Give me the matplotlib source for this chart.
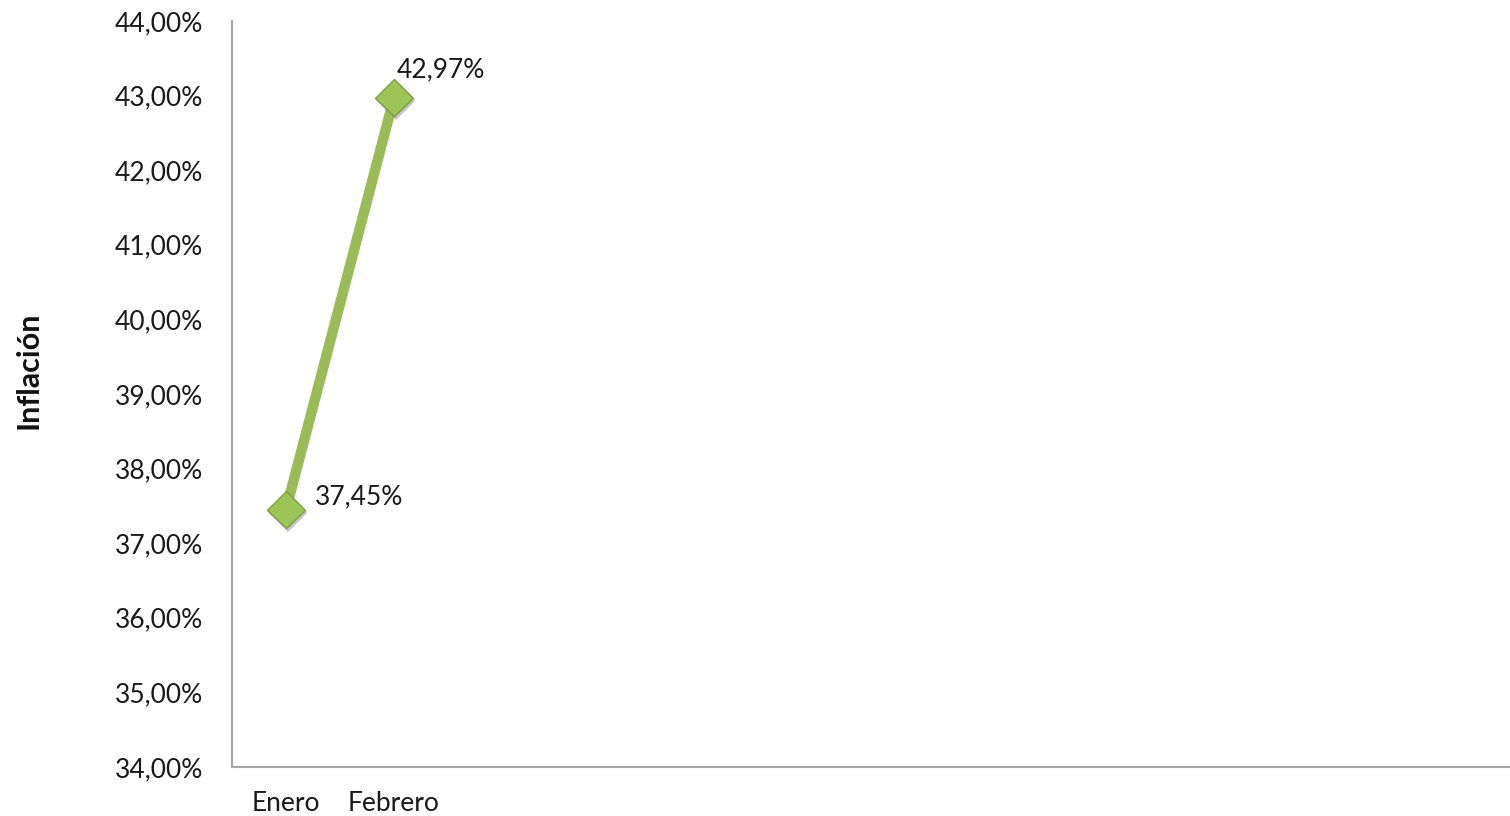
import numpy as np
import matplotlib
matplotlib.use('Agg')
import matplotlib.pyplot as plt
import matplotlib.patheffects as pe

meses = ["Enero", "Febrero"]
inflacion = [37.45, 42.97]
etiquetas = ["37,45%", "42,97%"]
yticks = [34, 35, 36, 37, 38, 39, 40, 41, 42, 43, 44]

plt.rcParams['font.family'] = ['Lato', 'DejaVu Sans']

fig = plt.figure(figsize=(15.10, 8.16), dpi=100)
ax = fig.add_axes([232 / 1510, 1 - 767 / 816, 1 - 232 / 1510, (767 - 21) / 816])

x = np.arange(len(meses))
green = "#9BBB59"

ax.plot(x, inflacion, color=green, lw=7.5, solid_capstyle="butt", zorder=3)
ax.plot(x, inflacion, linestyle="none", marker="D", markersize=19,
        markerfacecolor="#9DC457", markeredgecolor="#7E9D45", markeredgewidth=1,
        zorder=4,
        path_effects=[pe.SimplePatchShadow(offset=(1.5, -2.5), shadow_rgbFace="#888888", alpha=0.5),
                      pe.Normal()])

# etiquetas de datos
offsets = [(21, 9), (2, 20)]
for xi, yi, lab, off in zip(x, inflacion, etiquetas, offsets):
    ax.annotate(lab, (xi, yi), xytext=off, textcoords="offset points",
                ha="left", va="center", fontsize=19, color="#1a1a1a")

ax.set_xlim(-0.5, (1510 - 232) / 108 - 0.5)
ax.set_ylim(34, 44)
ax.set_xticks(x)
ax.set_xticklabels(meses, fontsize=19, color="#1a1a1a")
ax.set_yticks(yticks)
ax.set_yticklabels([f"{v},00%" for v in yticks], fontsize=19, color="#1a1a1a")
ax.tick_params(axis="both", length=0)
ax.tick_params(axis="y", pad=21)
ax.tick_params(axis="x", pad=17)

for s in ["top", "right"]:
    ax.spines[s].set_visible(False)
for s in ["left", "bottom"]:
    ax.spines[s].set_color("#A6A6A6")
    ax.spines[s].set_linewidth(1.5)

ax.set_ylabel("Inflación", fontsize=22, fontweight="bold", color="#111111")
ax.yaxis.set_label_coords(-190 / 1278, 0.532)

fig.savefig("out.png", dpi=100)
